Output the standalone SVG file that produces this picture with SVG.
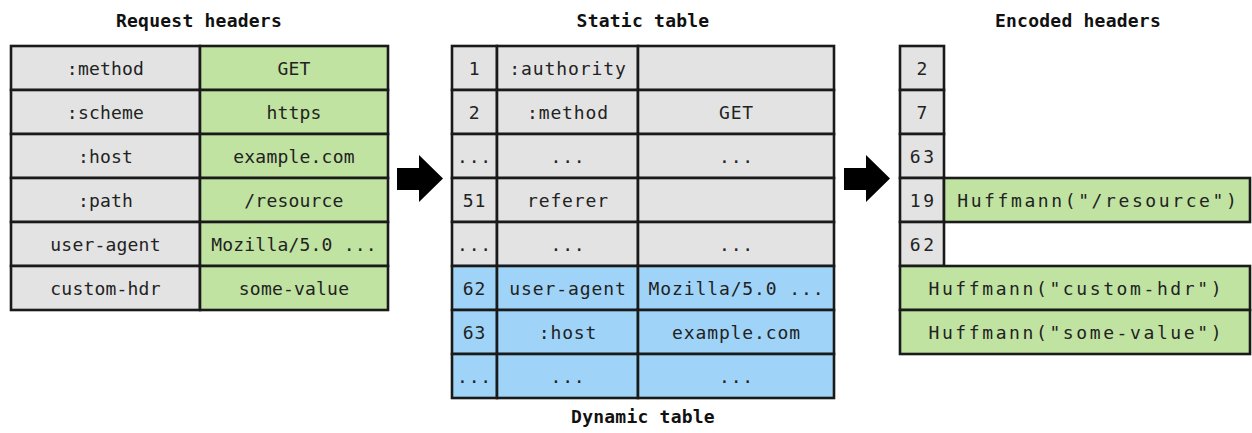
<svg xmlns="http://www.w3.org/2000/svg" width="1252" height="433" viewBox="0 0 1252 433">
<style>
  .g{fill:#e3e3e3;stroke:#1a1a1a;stroke-width:2.6}
  .v{fill:#c0e3a1;stroke:#1a1a1a;stroke-width:2.6}
  .b{fill:#9fd4f8;stroke:#1a1a1a;stroke-width:2.6}
  text{font-family:"DejaVu Sans Mono","Liberation Mono",monospace;font-size:18px;fill:#222;text-anchor:middle}
  .t{font-weight:bold;letter-spacing:0.23px;fill:#111}
  .l text{letter-spacing:0.2px}
  .m text{letter-spacing:0.9px}
  .r text{letter-spacing:2.6px}
  .arrow{fill:#000}
</style>
<text class="t" x="199" y="27">Request headers</text>
<text class="t" x="643" y="27">Static table</text>
<text class="t" x="1078" y="27">Encoded headers</text>
<text class="t" x="643" y="423">Dynamic table</text>

<g id="request-headers" class="l">
  <rect class="g" x="11" y="46" width="189" height="44"/><rect class="v" x="200" y="46" width="188" height="44"/>
  <text x="105.5" y="74.5">:method</text><text x="294" y="74.5">GET</text>
  <rect class="g" x="11" y="90" width="189" height="44"/><rect class="v" x="200" y="90" width="188" height="44"/>
  <text x="105.5" y="118.5">:scheme</text><text x="294" y="118.5">https</text>
  <rect class="g" x="11" y="134" width="189" height="44"/><rect class="v" x="200" y="134" width="188" height="44"/>
  <text x="105.5" y="162.5">:host</text><text x="294" y="162.5">example.com</text>
  <rect class="g" x="11" y="178" width="189" height="44"/><rect class="v" x="200" y="178" width="188" height="44"/>
  <text x="105.5" y="206.5">:path</text><text x="294" y="206.5">/resource</text>
  <rect class="g" x="11" y="222" width="189" height="44"/><rect class="v" x="200" y="222" width="188" height="44"/>
  <text x="105.5" y="250.5">user-agent</text><text x="294" y="250.5">Mozilla/5.0 ...</text>
  <rect class="g" x="11" y="266" width="189" height="44"/><rect class="v" x="200" y="266" width="188" height="44"/>
  <text x="105.5" y="294.5">custom-hdr</text><text x="294" y="294.5">some-value</text>
</g>

<g id="static-dynamic-table" class="m">
  <rect class="g" x="452" y="46" width="45" height="44"/><rect class="g" x="497" y="46" width="141" height="44"/><rect class="g" x="638" y="46" width="196" height="44"/>
  <text x="474.5" y="74.5">1</text><text x="568" y="74.5">:authority</text>
  <rect class="g" x="452" y="90" width="45" height="44"/><rect class="g" x="497" y="90" width="141" height="44"/><rect class="g" x="638" y="90" width="196" height="44"/>
  <text x="474.5" y="118.5">2</text><text x="568" y="118.5">:method</text><text x="736.5" y="118.5">GET</text>
  <rect class="g" x="452" y="134" width="45" height="44"/><rect class="g" x="497" y="134" width="141" height="44"/><rect class="g" x="638" y="134" width="196" height="44"/>
  <text x="474.5" y="162.5">...</text><text x="568" y="162.5">...</text><text x="736.5" y="162.5">...</text>
  <rect class="g" x="452" y="178" width="45" height="44"/><rect class="g" x="497" y="178" width="141" height="44"/><rect class="g" x="638" y="178" width="196" height="44"/>
  <text x="474.5" y="206.5">51</text><text x="568" y="206.5">referer</text>
  <rect class="g" x="452" y="222" width="45" height="44"/><rect class="g" x="497" y="222" width="141" height="44"/><rect class="g" x="638" y="222" width="196" height="44"/>
  <text x="474.5" y="250.5">...</text><text x="568" y="250.5">...</text><text x="736.5" y="250.5">...</text>
  <rect class="b" x="452" y="266" width="45" height="44"/><rect class="b" x="497" y="266" width="141" height="44"/><rect class="b" x="638" y="266" width="196" height="44"/>
  <text x="474.5" y="294.5">62</text><text x="568" y="294.5">user-agent</text><text x="736.5" y="294.5">Mozilla/5.0 ...</text>
  <rect class="b" x="452" y="310" width="45" height="44"/><rect class="b" x="497" y="310" width="141" height="44"/><rect class="b" x="638" y="310" width="196" height="44"/>
  <text x="474.5" y="338.5">63</text><text x="568" y="338.5">:host</text><text x="736.5" y="338.5">example.com</text>
  <rect class="b" x="452" y="354" width="45" height="44"/><rect class="b" x="497" y="354" width="141" height="44"/><rect class="b" x="638" y="354" width="196" height="44"/>
  <text x="474.5" y="382.5">...</text><text x="568" y="382.5">...</text><text x="736.5" y="382.5">...</text>
</g>

<g id="encoded-headers" class="r">
  <rect class="g" x="900" y="46" width="44" height="44"/><text x="923.3" y="74.5">2</text>
  <rect class="g" x="900" y="90" width="44" height="44"/><text x="923.3" y="118.5">7</text>
  <rect class="g" x="900" y="134" width="44" height="44"/><text x="923.3" y="162.5">63</text>
  <rect class="g" x="900" y="178" width="44" height="44"/><text x="923.3" y="206.5">19</text>
  <rect class="v" x="944" y="178" width="306" height="44"/><text x="1098.3" y="206.5">Huffmann("/resource")</text>
  <rect class="g" x="900" y="222" width="44" height="44"/><text x="923.3" y="250.5">62</text>
  <rect class="v" x="900" y="266" width="350" height="44"/><text x="1076.3" y="294.5">Huffmann("custom-hdr")</text>
  <rect class="v" x="900" y="310" width="350" height="44"/><text x="1076.3" y="338.5">Huffmann("some-value")</text>
</g>

<g id="connectors">
  <polygon class="arrow" points="397,168 419,168 419,155 443,178.5 419,202 419,190 397,190"/>
  <polygon class="arrow" points="844,168 866,168 866,155 890,178.5 866,202 866,190 844,190"/>
</g>
</svg>
